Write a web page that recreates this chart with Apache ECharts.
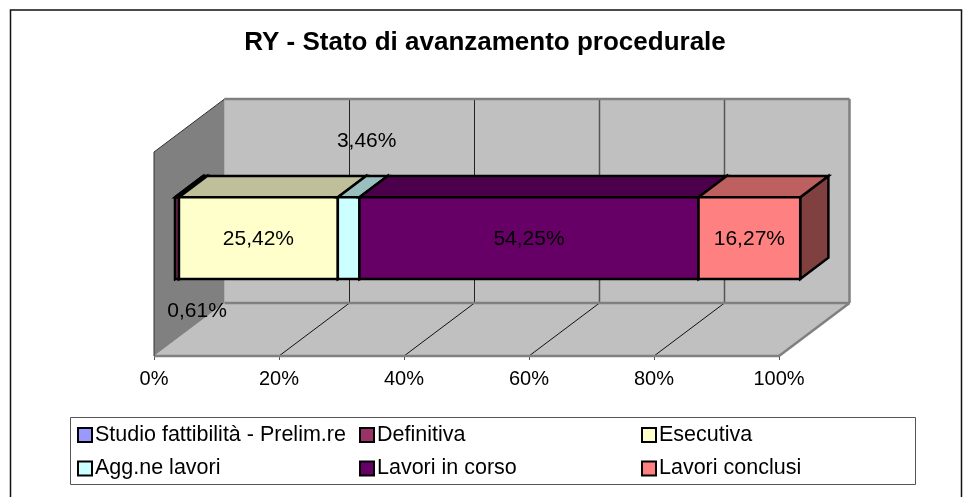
<!DOCTYPE html>
<html><head><meta charset="utf-8">
<style>html,body{margin:0;padding:0;background:#fff}#c{width:964px;height:497px}</style>
<script src="https://cdn.jsdelivr.net/npm/echarts@6/dist/echarts.min.js"></script>
</head><body><div id="c"></div>
<script>
const chartTitle = 'RY - Stato di avanzamento procedurale';
const categories = ['RY'];
const seriesNames = ['Studio fattibilità - Prelim.re','Definitiva','Esecutiva','Agg.ne lavori','Lavori in corso','Lavori conclusi'];
const seriesValues = [0, 0.61, 25.42, 3.46, 54.25, 16.27];
const valueLabels = ['', '0,61%', '25,42%', '3,46%', '54,25%', '16,27%'];
const tickValues = [0, 20, 40, 60, 80, 100];

const FONT = '"Liberation Sans", Arial, sans-serif';
const seriesColors = ['#9999FF','#993366','#FFFFCC','#CCFFFF','#660066','#FF8080'];
const topColors = ['#7373BF','#732649','#BFBF99','#99BFBF','#4C004C','#BF6060'];
const sideColors = ['#4C4C80','#4C1933','#808066','#668080','#330033','#804040'];
const labelShift = {1:[20,72], 3:[18,-98]}; // manually moved labels in the reference
const DX = 70.5, DY = -53, BAR = 0.4, D0 = 0.3, D1 = 0.7;
const gridStyles = {20:['#222',1], 40:['#222',1], 60:['#555',1.5], 80:['#555',1.5]};

function poly(points, fill, stroke, lw) {
  return {type:'polygon', shape:{points}, style:{fill:fill, stroke:stroke||null, lineWidth:lw||0, lineJoin:'miter'}};
}
function line(a, b, stroke, lw) {
  return {type:'line', shape:{x1:a[0],y1:a[1],x2:b[0],y2:b[1]}, style:{stroke, lineWidth:lw, fill:null}};
}
function renderFrame(params, api) {
  const cs = params.coordSys;
  const x0 = api.coord([0, 0])[0], x1 = api.coord([100, 0])[0];
  const yT = cs.y, yB = cs.y + cs.height;
  const children = [
    poly([[x0+DX,yT+DY],[x1+DX,yT+DY],[x1+DX,yB+DY],[x0+DX,yB+DY]], '#C0C0C0'),
    poly([[x0,yB],[x1,yB],[x1+DX,yB+DY],[x0+DX,yB+DY]], '#C0C0C0'),
    poly([[x0,yT],[x0+DX,yT+DY],[x0+DX,yB+DY],[x0,yB]], '#808080')
  ];
  tickValues.slice(1,-1).forEach(t => {
    const x = api.coord([t, 0])[0];
    children.push(line([x,yB],[x+DX,yB+DY],'#111',1));
    children.push(line([x+DX,yB+DY],[x+DX,yT+DY],gridStyles[t][0],gridStyles[t][1]));
  });
  children.push(line([x0+DX,yT+DY],[x1+DX,yT+DY],'#808080',2.5));
  children.push(line([x1+DX,yT+DY],[x1+DX,yB+DY],'#808080',2.5));
  children.push(line([x0+DX,yB+DY],[x1+DX,yB+DY],'#808080',2.5));
  children.push(line([x1+DX,yB+DY],[x1,yB],'#808080',2.5));
  children.push(line([x0,yB],[x1,yB],'#808080',2.5));
  children.push(line([x0,yT],[x0+DX,yT+DY],'#333',1));
  children.push(line([x0,yT],[x0,yB],'#333',1));
  return {type:'group', children};
}
function makeRenderBar(i) {
  return function (params, api) {
    const s = api.value(0), e = api.value(1);
    const c0 = api.coord([s, api.value(2)]), c1 = api.coord([e, api.value(2)]);
    const h = api.size([0, 1])[1] * BAR;
    const fx = DX * D0, fy = DY * D0, bx = DX * D1, by = DY * D1;
    const xa = c0[0] + fx, xb = c1[0] + fx, ya = c0[1] + fy - h / 2, yb = c0[1] + fy + h / 2;
    const ddx = bx - fx, ddy = by - fy;
    const k = '#000', lw = 2.5;
    const children = [
      poly([[xb,ya],[xb+ddx,ya+ddy],[xb+ddx,yb+ddy],[xb,yb]], sideColors[i], k, lw),
      poly([[xa,ya],[xa+ddx,ya+ddy],[xb+ddx,ya+ddy],[xb,ya]], topColors[i], k, lw),
      poly([[xa,ya],[xb,ya],[xb,yb],[xa,yb]], seriesColors[i], k, lw)
    ];
    return {type:'group', children};
  };
}
function makeRenderLabel(i) {
  return function (params, api) {
    const c0 = api.coord([api.value(0), api.value(2)]), c1 = api.coord([api.value(1), api.value(2)]);
    const sh = labelShift[i] || [0,0];
    return {type:'text', style:{
      text: valueLabels[i], x:(c0[0]+c1[0])/2 + DX*D0 + sh[0], y:c0[1] + DY*D0 + sh[1] + 1,
      fill:'#000', font:'21px '+FONT, textAlign:'center', textVerticalAlign:'middle'}};
  };
}
let cum = 0;
const barSeries = [], labelSeries = [];
seriesValues.forEach((v, i) => {
  const start = cum; cum += v;
  barSeries.push({name:seriesNames[i], type:'custom', coordinateSystem:'cartesian2d', z:3,
    itemStyle:{color:seriesColors[i], borderColor:'#000', borderWidth:2},
    renderItem:makeRenderBar(i), encode:{x:[0,1], y:2}, data:[[start, cum, 0]], silent:true});
  if (valueLabels[i]) labelSeries.push({type:'custom', coordinateSystem:'cartesian2d', z:5,
    renderItem:makeRenderLabel(i), encode:{x:[0,1], y:2}, data:[[start, cum, 0]], silent:true});
});
const legendBase = {orient:'vertical', icon:'rect', itemWidth:14, itemHeight:14, itemGap:11.5, selectedMode:false,
  padding:0, textStyle:{fontFamily:FONT, fontSize:21.5, color:'#000', padding:[0,0,0,-2]}};
const chart = echarts.init(document.getElementById('c'), null, {renderer:'canvas'});
chart.setOption({
  backgroundColor:'#fff', animation:false,
  title:{text:chartTitle, left:485, top:30, textAlign:'center', padding:0,
    textStyle:{fontFamily:FONT, fontSize:26, fontWeight:'bold', color:'#000'}},
  grid:{left:154, top:152, width:625, height:204, containLabel:false},
  xAxis:{type:'value', min:0, max:100, interval:20,
    axisLine:{show:false}, splitLine:{show:false},
    axisTick:{show:true, length:4, lineStyle:{color:'#555', width:1}},
    axisLabel:{formatter:'{value}%', fontFamily:FONT, fontSize:20, color:'#000', margin:13}},
  yAxis:{type:'category', data:categories, show:false},
  legend:[
    Object.assign({}, legendBase, {left:77, top:424, data:[seriesNames[0], seriesNames[3]]}),
    Object.assign({}, legendBase, {left:359, top:424, data:[seriesNames[1], seriesNames[4]]}),
    Object.assign({}, legendBase, {left:641, top:424, data:[seriesNames[2], seriesNames[5]]})
  ],
  graphic:[
    {type:'rect', z:-1, shape:{x:10.5,y:10,width:951,height:500}, style:{fill:'#fff', stroke:'#111', lineWidth:1.5}},
    {type:'rect', z:-1, shape:{x:70.5,y:417.5,width:845,height:67}, style:{fill:'#fff', stroke:'#555', lineWidth:1}}
  ],
  series:[{type:'custom', coordinateSystem:'cartesian2d', z:1, renderItem:renderFrame, data:[[0,0]], encode:{x:0,y:1}, silent:true}]
    .concat(barSeries, labelSeries)
});
</script></body></html>
